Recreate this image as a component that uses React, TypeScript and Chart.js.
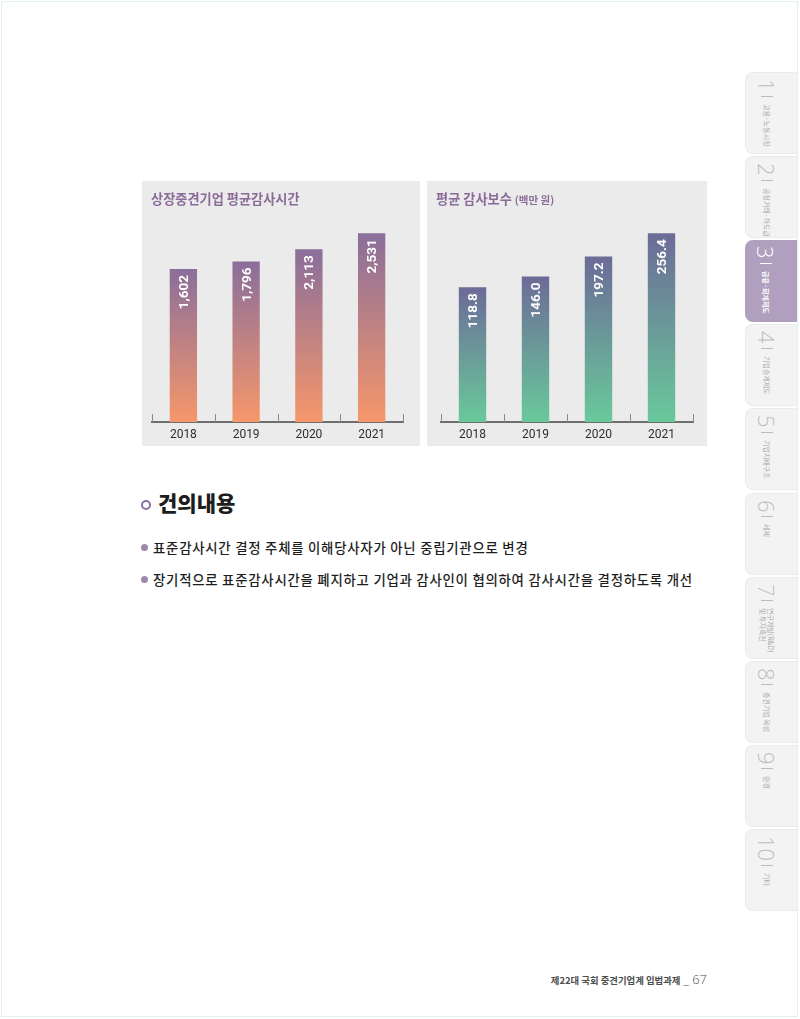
import React, { useEffect, useRef } from 'react';
import { Chart, registerables } from 'chart.js';
Chart.register(...registerables);

// ---- data ----
const years = ['2018', '2019', '2020', '2021'];
const auditHours = [1602, 1796, 2113, 2531];
const auditFees = [118.8, 146.0, 197.2, 256.4];
const hoursTitle = '상장중견기업 평균감사시간';
const feesTitle = '평균 감사보수';
const feesUnit = '(백만 원)';
const heading = '건의내용';
const bullets = [
  '표준감사시간 결정 주체를 이해당사자가 아닌 중립기관으로 변경',
  '장기적으로 표준감사시간을 폐지하고 기업과 감사인이 협의하여 감사시간을 결정하도록 개선',
];
const tabNumbers = ['1', '2', '3', '4', '5', '6', '7', '8', '9', '10'];
const tabLabels = [
  ['고용·노동시장'],
  ['공정거래·하도급'],
  ['금융·회계제도'],
  ['기업승계제도'],
  ['기업지배구조'],
  ['세제'],
  ['연구개발(R&D)', '및 투자촉진'],
  ['중견기업 육성'],
  ['환경'],
  ['기타'],
];
const activeTab = 2;
const footerText = '제22대 국회 중견기업계 입법과제';
const pageNumber = '67';

const KR = '"Noto Sans CJK KR", "Noto Sans", sans-serif';

type PanelProps = {
  left: number; top: number; width: number; height: number;
  padL: number; padR: number;
  values: number[]; fmt: (v: number) => string;
  min: number; max: number;
  topColor: string; bottomColor: string;
  title: string; unit?: string;
};

function BarPanel(p: PanelProps) {
  const ref = useRef<HTMLCanvasElement | null>(null);
  useEffect(() => {
    if (!ref.current) return;
    const valuePlugin = {
      id: 'valueLabels',
      afterDatasetsDraw(chart: any) {
        const ctx = chart.ctx;
        const meta = chart.getDatasetMeta(0);
        meta.data.forEach((bar: any, i: number) => {
          ctx.save();
          ctx.translate(bar.x, bar.y + 6);
          ctx.rotate(-Math.PI / 2);
          ctx.font = 'bold 13.5px Roboto, "Noto Sans", sans-serif';
          ctx.fillStyle = '#ffffff';
          ctx.textAlign = 'right';
          ctx.textBaseline = 'middle';
          ctx.fillText(p.fmt(p.values[i]), 0, 1);
          ctx.restore();
        });
      },
      afterDraw(chart: any) {
        const ctx = chart.ctx;
        const xs = chart.scales.x;
        const n = years.length;
        const bottom = chart.chartArea.bottom;
        ctx.save();
        ctx.strokeStyle = '#8a8a8a';
        ctx.lineWidth = 1;
        for (let i = 0; i <= n; i++) {
          const x = Math.round(xs.left + (i * xs.width) / n) + 0.5;
          ctx.beginPath();
          ctx.moveTo(x, bottom);
          ctx.lineTo(x, bottom - 8);
          ctx.stroke();
        }
        ctx.restore();
      },
    };
    const chart = new Chart(ref.current, {
      type: 'bar',
      data: {
        labels: years,
        datasets: [
          {
            data: p.values,
            base: p.min,
            borderWidth: 0,
            barPercentage: 0.435,
            categoryPercentage: 1,
            backgroundColor: (c: any) => {
              const ch = c.chart;
              const ys = ch.scales?.y;
              if (!ch.chartArea || !ys || c.raw == null) return p.topColor;
              const t = ys.getPixelForValue(c.raw);
              const b = ys.getPixelForValue(p.min);
              const g = ch.ctx.createLinearGradient(0, t, 0, b);
              g.addColorStop(0, p.topColor);
              g.addColorStop(1, p.bottomColor);
              return g;
            },
          } as any,
        ],
      },
      options: {
        animation: false,
        responsive: false,
        maintainAspectRatio: false,
        layout: { padding: { left: p.padL, right: p.padR, top: 40, bottom: 0 } },
        plugins: {
          legend: { display: false },
          tooltip: { enabled: false },
          title: { display: false },
        },
        scales: {
          x: {
            grid: { display: false, drawTicks: false },
            border: { display: true, color: '#6e6e6e', width: 2 },
            ticks: {
              color: '#2e2e2e',
              font: { family: 'Roboto, "Noto Sans", sans-serif', size: 12 },
              padding: 6,
            },
            afterFit: (s: any) => { s.height = 24; },
          },
          y: { display: false, min: p.min, max: p.max },
        },
      },
      plugins: [valuePlugin],
    });
    return () => chart.destroy();
  }, []);
  return (
    <div style={{ position: 'absolute', left: p.left, top: p.top, width: p.width, height: p.height, background: '#ebebeb' }}>
      <canvas ref={ref} width={p.width} height={p.height} style={{ position: 'absolute', left: 0, top: 0, width: p.width, height: p.height }} />
      <div style={{ position: 'absolute', left: 9, top: 8, fontFamily: KR, fontWeight: 700, fontSize: 13.2, lineHeight: '19px', color: '#8b6c99', whiteSpace: 'nowrap' }}>
        {p.title}
        {p.unit ? <span style={{ fontSize: 10.5, marginLeft: 3 }}>{p.unit}</span> : null}
      </div>
    </div>
  );
}

function Tab({ i }: { i: number }) {
  const active = i === activeTab;
  const top = 72 + i * 84.1;
  const fg = active ? '#ffffff' : '#bdbdbd';
  const fgText = active ? '#ffffff' : '#a9a9a9';
  return (
    <div style={{
      position: 'absolute', left: 745, top, width: 52, height: 82,
      background: active ? '#b09fbe' : '#f3f3f3',
      border: active ? 'none' : '1px solid #ebebeb', borderRight: 'none',
      borderRadius: '8px 0 0 8px', boxSizing: 'border-box',
    }}>
      <div style={{
        position: 'absolute', left: 10, top: 6, writingMode: 'vertical-rl', textOrientation: 'sideways' as any,
        display: 'flex', alignItems: 'center', whiteSpace: 'nowrap',
      }}>
        <span style={{ fontFamily: '"Open Sans", "Noto Sans", sans-serif', fontWeight: 300, fontSize: 22, lineHeight: '22px', color: fg }}>{tabNumbers[i]}</span>
        <span style={{ display: 'inline-block', width: 12, height: 1, background: fg, margin: '4px 0 4px 0' }} />
        <span style={{ fontFamily: KR, fontSize: 7, lineHeight: '8px', color: fgText, fontWeight: active ? 700 : 400, marginTop: 3 }}>
          {tabLabels[i].map((l, k) => (<span key={k} style={{ display: 'block' }}>{l}</span>))}
        </span>
      </div>
    </div>
  );
}

export default function App() {
  return (
    <div style={{ position: 'absolute', left: 0, top: 0, width: 800, height: 1019, background: '#ffffff', overflow: 'hidden', fontFamily: KR }}>
      <div style={{ position: 'absolute', left: 1, top: 1, width: 797, height: 1016, border: '1px solid #e2f0f6', boxSizing: 'border-box' }} />
      <BarPanel left={142} top={181} width={278} height={265} padL={10} padR={17}
        values={auditHours} fmt={(v) => v.toLocaleString('en-US')}
        min={-2379} max={2851} topColor="#8a6e9b" bottomColor="#f6976a" title={hoursTitle} />
      <BarPanel left={427} top={181} width={280} height={265} padL={14} padR={14}
        values={auditFees} fmt={(v) => v.toFixed(1)}
        min={-224.5} max={287.7} topColor="#6c6b97" bottomColor="#69c99b" title={feesTitle} unit={feesUnit} />

      <div style={{ position: 'absolute', left: 141, top: 500, width: 10, height: 10, border: '2.5px solid #8d6f9f', borderRadius: '50%', boxSizing: 'border-box' }} />
      <div style={{ position: 'absolute', left: 158, top: 489, fontFamily: KR, fontWeight: 900, fontSize: 21, lineHeight: '27px', color: '#1d1d1d', whiteSpace: 'nowrap' }}>{heading}</div>

      {bullets.map((b, k) => (
        <React.Fragment key={k}>
          <div style={{ position: 'absolute', left: 141, top: 544 + k * 32, width: 7, height: 7, borderRadius: '50%', background: '#9c87ad' }} />
          <div style={{ position: 'absolute', left: 153, top: 538 + k * 32, fontFamily: KR, fontWeight: 500, fontSize: 13.4, letterSpacing: 0.75, lineHeight: '19px', color: '#1e1e1e', whiteSpace: 'nowrap' }}>{b}</div>
        </React.Fragment>
      ))}

      {tabNumbers.map((_, i) => <Tab key={i} i={i} />)}

      <div style={{ position: 'absolute', right: 93, top: 970, whiteSpace: 'nowrap', color: '#4d4d4d', display: 'flex', alignItems: 'baseline' }}>
        <span style={{ fontFamily: KR, fontWeight: 700, fontSize: 9.4 }}>{footerText}</span>
        <span style={{ fontFamily: '"Open Sans", sans-serif', fontWeight: 300, fontSize: 13, marginLeft: 3 }}>_ {pageNumber}</span>
      </div>
    </div>
  );
}
